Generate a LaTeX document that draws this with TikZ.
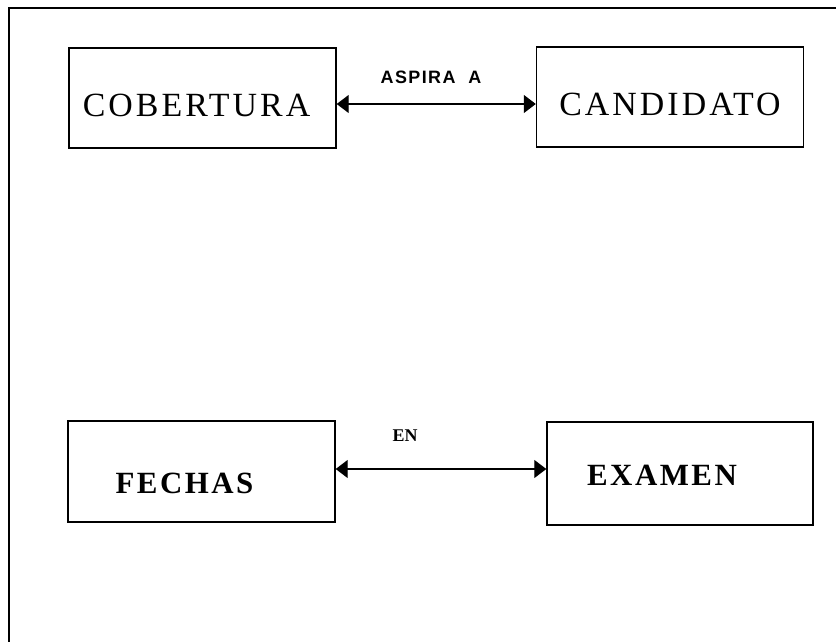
\documentclass[tikz,border=0pt]{standalone}
\usepackage{fontspec}
\setmainfont{Liberation Serif}
\newfontfamily\relfont{Liberation Sans}
\usetikzlibrary{arrows.meta, positioning}
\tikzset{
  entbox/.style={
    draw,
    line width=1.4pt,
    minimum width=267bp,
    minimum height=100bp,
    inner sep=0pt
  },
  entlabel/.style={
    inner sep=0pt,
    font=\fontsize{34}{34}\selectfont\addfontfeatures{LetterSpace=9}
  },
  entboldlabel/.style={
    entlabel,
    font=\fontsize{31}{31}\selectfont\bfseries\addfontfeatures{LetterSpace=8}
  },
  rel arrow/.style={
    {Triangle[length=12bp, width=18bp]}-{Triangle[length=12bp, width=18bp]},
    line width=1.1pt
  },
  rel label/.style={
    font=\relfont\bfseries\fontsize{18}{18}\selectfont\addfontfeatures{LetterSpace=8},
    inner sep=0pt
  }
}

\begin{document}
\begin{tikzpicture}[x=1bp, y=-1bp]
    \useasboundingbox (0,0) rectangle (836,642);
    % marco (solo borde superior e izquierdo)
    \draw[line width=1.4pt] (9,642) -- (9,8) -- (836,8);

    % entidades de arriba
    \node[entbox, label={[entlabel, xshift=-6bp, yshift=-7bp]center:COBERTURA}] (cobertura) at (202.5,98) {};
    \node[entbox, label={[entlabel, yshift=-7bp]center:CANDIDATO}] (candidato) at (670,97) {};

    % entidades de abajo
    \node[entbox, minimum height=101bp, label={[entboldlabel, xshift=-17bp, yshift=-12bp]center:FECHAS}] (fechas) at (201.5,471.5) {};
    \node[entbox, minimum width=266bp, minimum height=103bp, label={[entboldlabel, xshift=-18bp, yshift=-2bp]center:EXAMEN}] (examen) at (680,473.5) {};

    % relaciones
    \coordinate (aspiraL) at (cobertura.east |- 0,104);
    \coordinate (aspiraR) at (candidato.west |- 0,104);
    \draw[rel arrow] (aspiraL) -- (aspiraR);
    \node[rel label] (aspira) at (431,77) {ASPIRA\ \ A};

    \coordinate (enL) at (fechas.east |- 0,469);
    \coordinate (enR) at (examen.west |- 0,469);
    \draw[rel arrow] (enL) -- (enR);
    \node[rel label, font=\bfseries\fontsize{18}{18}\selectfont] (en) at (405,436) {EN};

  \end{tikzpicture}
\end{document}
